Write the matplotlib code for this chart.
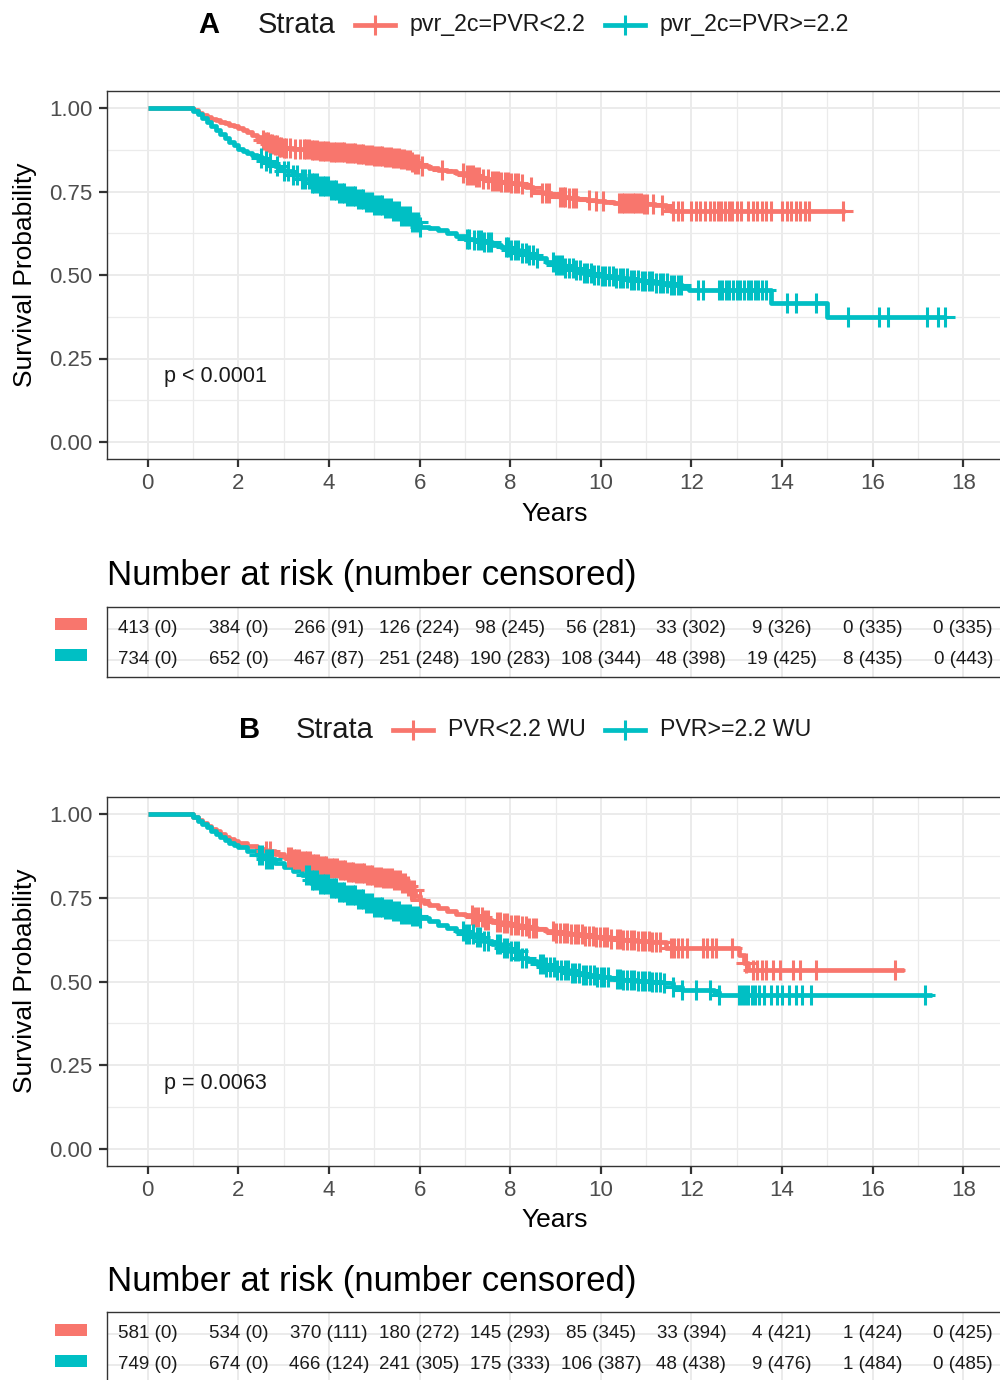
import numpy as np
import matplotlib
matplotlib.use('Agg')
import matplotlib.pyplot as plt
from matplotlib.patches import Rectangle
from matplotlib.lines import Line2D

plt.rcParams['font.family'] = ['Liberation Sans', 'DejaVu Sans']

RED = '#F8766D'
TEAL = '#00BFC4'

# ---- panel A : step curves (time, survival) ----
a_red_t = [0, 1.0, 1.1, 1.2, 1.3, 1.4, 1.5, 1.6, 1.7, 1.8, 1.9, 2.0, 2.1, 2.2, 2.3, 2.4, 2.5, 2.6,
           2.7, 2.8, 2.9, 3.0, 3.2, 3.4, 3.6, 3.8, 4.0, 4.2, 4.4, 4.6, 4.8, 5.0, 5.2, 5.4, 5.6, 5.7,
           5.8, 5.9, 6.0, 6.2, 6.4, 6.6, 6.8, 7.0, 7.2, 7.4, 7.6, 7.8, 8.0, 8.2, 8.35, 8.5, 8.7, 8.9,
           9.1, 9.3, 9.5, 9.7, 9.9, 10.1, 10.3, 10.6, 10.9, 11.2, 11.45, 11.55, 15.4]
a_red_s = [1.0, 0.993, 0.986, 0.979, 0.973, 0.968, 0.963, 0.958, 0.954, 0.95, 0.946, 0.94, 0.934,
           0.928, 0.92, 0.912, 0.905, 0.899, 0.893, 0.888, 0.884, 0.88, 0.878, 0.876, 0.874, 0.871,
           0.869, 0.867, 0.865, 0.862, 0.859, 0.856, 0.853, 0.851, 0.848, 0.844, 0.838, 0.831, 0.826,
           0.82, 0.815, 0.81, 0.804, 0.799, 0.793, 0.787, 0.782, 0.778, 0.775, 0.772, 0.762, 0.752,
           0.745, 0.738, 0.733, 0.73, 0.727, 0.724, 0.721, 0.719, 0.717, 0.715, 0.712, 0.709, 0.7,
           0.692, 0.692]
a_red_cens = [2.55, 2.6, 2.65, 2.7, 2.75, 2.8, 2.85, 2.9, 2.95, 3.0, 3.05, 3.15, 3.25, 3.35, 3.45,
              3.5, 3.56, 3.62, 3.68, 3.74, 3.8, 3.86, 3.92, 3.98, 4.04, 4.1, 4.16, 4.22, 4.28, 4.34,
              4.4, 4.46, 4.52, 4.58, 4.64, 4.7, 4.76, 4.82, 4.88, 4.94, 5.0, 5.06, 5.12, 5.18, 5.24,
              5.3, 5.36, 5.42, 5.48, 5.54, 5.6, 5.66, 5.72, 5.78, 5.84, 5.9, 5.97, 6.05, 6.5, 6.95,
              7.05, 7.12, 7.18, 7.25, 7.32, 7.4, 7.5, 7.6, 7.66, 7.72, 7.8, 7.88, 7.95, 8.02, 8.1,
              8.18, 8.25, 8.45, 8.7, 8.78, 8.85, 9.1, 9.16, 9.22, 9.3, 9.38, 9.45, 9.75, 9.9, 10.05,
              10.4, 10.46, 10.52, 10.58, 10.64, 10.7, 10.76, 10.82, 10.88, 10.95, 11.02, 11.15, 11.35,
              11.6, 11.7, 11.8, 12.0, 12.1, 12.2, 12.3, 12.4, 12.5, 12.58, 12.66, 12.74, 12.82, 12.9,
              13.0, 13.1, 13.25, 13.35, 13.45, 13.55, 13.65, 13.75, 14.0, 14.1, 14.2, 14.3, 14.4,
              14.5, 14.6, 15.35]

a_teal_t = [0, 1.0, 1.1, 1.2, 1.3, 1.4, 1.5, 1.6, 1.7, 1.8, 1.9, 2.0, 2.1, 2.2, 2.3, 2.4, 2.5, 2.6,
            2.7, 2.8, 2.9, 3.0, 3.2, 3.4, 3.6, 3.8, 4.0, 4.2, 4.4, 4.6, 4.8, 5.0, 5.2, 5.4, 5.6, 5.8,
            6.0, 6.2, 6.4, 6.6, 6.8, 7.0, 7.2, 7.4, 7.6, 7.8, 8.0, 8.2, 8.4, 8.6, 8.8, 9.0, 9.2, 9.4,
            9.6, 9.8, 10.0, 10.3, 10.6, 10.9, 11.2, 11.5, 11.8, 11.95, 13.75, 15.0, 17.6]
a_teal_s = [1.0, 0.992, 0.982, 0.97, 0.958, 0.946, 0.934, 0.922, 0.91, 0.899, 0.888, 0.877, 0.871,
            0.865, 0.86, 0.855, 0.85, 0.842, 0.834, 0.826, 0.818, 0.81, 0.798, 0.787, 0.776, 0.765,
            0.754, 0.746, 0.738, 0.729, 0.72, 0.711, 0.702, 0.692, 0.677, 0.66, 0.645, 0.64, 0.636,
            0.626, 0.616, 0.609, 0.604, 0.598, 0.591, 0.583, 0.575, 0.567, 0.559, 0.55, 0.54, 0.53,
            0.522, 0.514, 0.507, 0.501, 0.496, 0.491, 0.486, 0.481, 0.476, 0.469, 0.461, 0.455,
            0.416, 0.375, 0.375]
a_teal_cens = [2.5, 2.6, 2.7, 2.85, 3.0, 3.1, 3.2, 3.3, 3.4, 3.48, 3.55, 3.62, 3.68, 3.74, 3.8,
               3.86, 3.92, 3.98, 4.04, 4.1, 4.16, 4.22, 4.28, 4.34, 4.4, 4.46, 4.52, 4.58, 4.64, 4.7,
               4.76, 4.82, 4.88, 4.94, 5.0, 5.06, 5.12, 5.18, 5.24, 5.3, 5.36, 5.42, 5.48, 5.54, 5.6,
               5.66, 5.72, 5.78, 5.84, 5.9, 5.96, 6.02, 7.05, 7.1, 7.2, 7.3, 7.36, 7.42, 7.5, 7.58,
               7.9, 7.96, 8.02, 8.1, 8.18, 8.26, 8.34, 8.42, 8.5, 8.6, 8.95, 9.02, 9.08, 9.15, 9.22,
               9.3, 9.38, 9.46, 9.54, 9.62, 9.7, 9.78, 9.86, 9.94, 10.02, 10.1, 10.18, 10.26, 10.34,
               10.42, 10.5, 10.58, 10.66, 10.74, 10.82, 10.9, 10.98, 11.06, 11.14, 11.22, 11.3, 11.38,
               11.46, 11.54, 11.62, 11.7, 11.78, 12.15, 12.25, 12.6, 12.68, 12.76, 12.84, 12.92, 13.0,
               13.08, 13.16, 13.24, 13.32, 13.4, 13.48, 13.56, 13.64, 14.1, 14.3, 14.75, 15.45,
               16.15, 16.35, 17.2, 17.45, 17.6]

# ---- panel B ----
b_red_t = [0, 1.0, 1.1, 1.2, 1.3, 1.4, 1.5, 1.6, 1.7, 1.8, 1.9, 2.0, 2.2, 2.4, 2.6, 2.8, 3.0, 3.2,
           3.4, 3.6, 3.8, 4.0, 4.2, 4.4, 4.6, 4.8, 5.0, 5.2, 5.4, 5.6, 5.7, 5.8, 5.9, 6.0, 6.1, 6.2,
           6.4, 6.6, 6.8, 7.0, 7.2, 7.4, 7.6, 7.8, 8.0, 8.2, 8.4, 8.6, 8.8, 9.0, 9.3, 9.6, 9.9, 10.2,
           10.5, 10.8, 11.1, 11.45, 13.05, 13.15, 13.25, 16.7]
b_red_s = [1.0, 0.992, 0.983, 0.974, 0.965, 0.956, 0.948, 0.94, 0.932, 0.925, 0.919, 0.913, 0.905,
           0.897, 0.89, 0.881, 0.873, 0.866, 0.859, 0.852, 0.845, 0.838, 0.833, 0.828, 0.823, 0.818,
           0.813, 0.808, 0.803, 0.795, 0.786, 0.772, 0.755, 0.743, 0.735, 0.729, 0.72, 0.71, 0.703,
           0.698, 0.692, 0.685, 0.679, 0.674, 0.67, 0.665, 0.661, 0.656, 0.651, 0.646, 0.641, 0.636,
           0.632, 0.628, 0.624, 0.621, 0.619, 0.6, 0.58, 0.555, 0.534, 0.534]
b_red_cens = [2.6, 2.7, 3.1, 3.16, 3.22, 3.28, 3.34, 3.4, 3.46, 3.52, 3.58, 3.64, 3.7, 3.76, 3.82,
              3.88, 3.94, 4.0, 4.06, 4.12, 4.18, 4.24, 4.3, 4.36, 4.42, 4.48, 4.54, 4.6, 4.66, 4.72,
              4.78, 4.84, 4.9, 4.96, 5.02, 5.08, 5.14, 5.2, 5.26, 5.32, 5.38, 5.44, 5.5, 5.56, 5.62,
              5.68, 5.74, 5.8, 5.87, 6.0, 7.15, 7.22, 7.3, 7.38, 7.45, 7.52, 7.7, 7.78, 7.86, 7.94,
              8.02, 8.1, 8.18, 8.26, 8.34, 8.42, 8.5, 8.58, 8.95, 9.02, 9.1, 9.18, 9.26, 9.34, 9.42,
              9.5, 9.58, 9.66, 9.74, 9.82, 9.9, 9.98, 10.06, 10.14, 10.22, 10.35, 10.42, 10.5,
              10.58, 10.66, 10.74, 10.82, 10.9, 10.98, 11.06, 11.14, 11.22, 11.3, 11.55, 11.62,
              11.7, 11.8, 11.9, 12.25, 12.35, 12.45, 12.55, 12.9, 13.2, 13.35, 13.45, 13.55, 13.65,
              13.8, 13.95, 14.25, 14.4, 14.75, 16.5]

b_teal_t = [0, 1.0, 1.1, 1.2, 1.3, 1.4, 1.5, 1.6, 1.7, 1.8, 1.9, 2.0, 2.2, 2.4, 2.6, 2.8, 3.0, 3.2,
            3.4, 3.6, 3.8, 4.0, 4.2, 4.4, 4.6, 4.8, 5.0, 5.2, 5.4, 5.6, 5.8, 6.0, 6.2, 6.4, 6.6, 6.8,
            7.0, 7.2, 7.4, 7.6, 7.8, 8.0, 8.2, 8.4, 8.6, 8.8, 9.0, 9.3, 9.6, 9.9, 10.2, 10.5, 10.8,
            11.1, 11.4, 11.6, 11.8, 12.5, 12.6, 17.3]
b_teal_s = [1.0, 0.99, 0.98, 0.97, 0.96, 0.95, 0.94, 0.931, 0.922, 0.914, 0.908, 0.902, 0.891,
            0.879, 0.867, 0.855, 0.843, 0.83, 0.817, 0.804, 0.791, 0.779, 0.768, 0.757, 0.746, 0.735,
            0.723, 0.716, 0.71, 0.703, 0.696, 0.69, 0.68, 0.67, 0.66, 0.65, 0.642, 0.634, 0.622,
            0.611, 0.6, 0.59, 0.57, 0.56, 0.551, 0.543, 0.534, 0.526, 0.518, 0.512, 0.508, 0.504,
            0.501, 0.498, 0.495, 0.485, 0.475, 0.47, 0.46, 0.46]
b_teal_cens = [2.45, 2.52, 2.6, 2.68, 2.75, 3.5, 3.56, 3.62, 3.68, 3.74, 3.8, 3.86, 3.92, 3.98,
               4.04, 4.1, 4.16, 4.22, 4.28, 4.34, 4.4, 4.46, 4.52, 4.58, 4.64, 4.7, 4.76, 4.82, 4.88,
               4.94, 5.0, 5.06, 5.12, 5.18, 5.24, 5.3, 5.36, 5.42, 5.48, 5.54, 5.6, 5.66, 5.72, 5.78,
               5.84, 5.9, 5.96, 6.02, 6.95, 7.02, 7.1, 7.18, 7.26, 7.34, 7.42, 7.5, 7.7, 7.78, 7.86,
               7.94, 8.02, 8.1, 8.18, 8.26, 8.34, 8.65, 8.72, 8.8, 8.88, 8.96, 9.04, 9.12, 9.2, 9.28,
               9.36, 9.44, 9.52, 9.6, 9.68, 9.76, 9.84, 9.92, 10.0, 10.08, 10.16, 10.35, 10.42,
               10.5, 10.58, 10.66, 10.74, 10.82, 10.9, 10.98, 11.06, 11.14, 11.22, 11.3, 11.4, 11.6,
               11.8, 12.1, 12.4, 12.6, 13.05, 13.12, 13.19, 13.26, 13.33, 13.4, 13.5, 13.6, 13.75,
               13.9, 14.0, 14.15, 14.3, 14.45, 14.65, 17.15]

# ---- risk tables ----
risk_times = [0, 2, 4, 6, 8, 10, 12, 14, 16, 18]
a_red_risk = ['413 (0)', '384 (0)', '266 (91)', '126 (224)', '98 (245)', '56 (281)', '33 (302)',
              '9 (326)', '0 (335)', '0 (335)']
a_teal_risk = ['734 (0)', '652 (0)', '467 (87)', '251 (248)', '190 (283)', '108 (344)', '48 (398)',
               '19 (425)', '8 (435)', '0 (443)']
b_red_risk = ['581 (0)', '534 (0)', '370 (111)', '180 (272)', '145 (293)', '85 (345)', '33 (394)',
              '4 (421)', '1 (424)', '0 (425)']
b_teal_risk = ['749 (0)', '674 (0)', '466 (124)', '241 (305)', '175 (333)', '106 (387)', '48 (438)',
               '9 (476)', '1 (484)', '0 (485)']

W, H = 1000, 1380
XL = (-0.9, 18.9)


def fr(x0, y0, x1, y1):
    # pixel box -> figure fraction rect
    return [x0 / W, 1 - y1 / H, (x1 - x0) / W, (y1 - y0) / H]


def style_grid(ax):
    ax.set_facecolor('white')
    ax.grid(which='major', color='#EBEBEB', lw=1.4)
    ax.grid(which='minor', color='#EBEBEB', lw=0.9)
    ax.set_axisbelow(True)
    for sp in ax.spines.values():
        sp.set_color('#333333')
        sp.set_linewidth(1.0)


def draw_km(ax, t, s, cens, color):
    ax.step(t, s, where='post', color=color, lw=3.4, solid_capstyle='butt', zorder=3)
    idx = np.searchsorted(t, cens, side='right') - 1
    ys = np.asarray(s)[idx]
    ax.plot(cens, ys, ls='none', marker='+', ms=14, mew=2.2, color=color, zorder=4)


def surv_panel(ax, curves, ptext):
    for t, s, c, col in curves:
        draw_km(ax, t, s, c, col)
    ax.set_xlim(*XL)
    ax.set_ylim(-0.05, 1.05)
    ax.set_xticks(range(0, 19, 2))
    ax.set_xticks(range(1, 19, 2), minor=True)
    ax.set_yticks([0, 0.25, 0.5, 0.75, 1.0])
    ax.set_yticklabels(['0.00', '0.25', '0.50', '0.75', '1.00'])
    ax.set_yticks([0.125, 0.375, 0.625, 0.875], minor=True)
    ax.tick_params(which='major', length=6, width=1.6, color='#333333', labelsize=16,
                   labelcolor='#4D4D4D', pad=4.5)
    ax.tick_params(which='minor', length=0)
    style_grid(ax)
    ax.text(0.35, 0.195, ptext, fontsize=15.5, va='center', ha='left', color='#1A1A1A')


def risk_panel(ax, red_vals, teal_vals):
    ax.set_xlim(*XL)
    ax.set_ylim(0.45, 2.7)
    ax.set_xticks(range(0, 19, 2))
    ax.set_yticks([1, 2])
    ax.tick_params(length=0, labelbottom=False, labelleft=False)
    style_grid(ax)
    for x, r, tl in zip(risk_times, red_vals, teal_vals):
        ax.text(x, 2, r, ha='center', va='center', fontsize=13.5, color='#1A1A1A')
        ax.text(x, 1, tl, ha='center', va='center', fontsize=13.5, color='#1A1A1A')


fig = plt.figure(figsize=(W / 100, H / 100), dpi=100)

axA = fig.add_axes(fr(107, 91.3, 1004, 458.7))
surv_panel(axA, [(a_red_t, a_red_s, a_red_cens, RED),
                 (a_teal_t, a_teal_s, a_teal_cens, TEAL)], 'p < 0.0001')
rA = fig.add_axes(fr(107, 607, 1004, 677))
risk_panel(rA, a_red_risk, a_teal_risk)

axB = fig.add_axes(fr(107, 797.3, 1004, 1165.7))
surv_panel(axB, [(b_red_t, b_red_s, b_red_cens, RED),
                 (b_teal_t, b_teal_s, b_teal_cens, TEAL)], 'p = 0.0063')
rB = fig.add_axes(fr(107, 1312, 1004, 1382))
risk_panel(rB, b_red_risk, b_teal_risk)

# overlay in pixel coordinates for titles, legends and labels
ov = fig.add_axes([0, 0, 1, 1], zorder=10)
ov.set_xlim(0, W)
ov.set_ylim(H, 0)
ov.axis('off')
ov.patch.set_alpha(0)


def legend_row(y, letter, lx, sx, red_x, red_lab, teal_x, teal_lab):
    ov.text(lx, y, letter, fontsize=21, fontweight='bold', ha='center', va='center')
    ov.text(sx, y, 'Strata', fontsize=21, ha='left', va='center', color='#1A1A1A')
    for (x0, lab, col) in [(red_x, red_lab, RED), (teal_x, teal_lab, TEAL)]:
        ov.add_line(Line2D([x0, x0 + 40], [y, y], color=col, lw=3.4))
        ov.plot([x0 + 20], [y], marker='+', ms=15, mew=2.2, color=col)
        ov.text(x0 + 55, y, lab, fontsize=16.7, ha='left', va='center', color='#1A1A1A')


legend_row(25, 'A', 209, 258, 355, 'pvr_2c=PVR<2.2', 605, 'pvr_2c=PVR>=2.2')
legend_row(730, 'B', 250, 296, 393, 'PVR<2.2 WU', 605, 'PVR>=2.2 WU')

for yc in (275, 981):
    ov.text(25, yc, 'Survival Probability', fontsize=19, rotation=90, ha='center', va='center')
for yc in (514, 1220):
    ov.text(555, yc, 'Years', fontsize=19, ha='center', va='center')
for yc in (575, 1281):
    ov.text(107, yc, 'Number at risk (number censored)', fontsize=25, ha='left', va='center')

for ytop in (618, 1324):
    ov.add_patch(Rectangle((55, ytop), 32, 12, color=RED, lw=0))
    ov.add_patch(Rectangle((55, ytop + 31), 32, 12, color=TEAL, lw=0))

fig.savefig('out.png', dpi=100)
